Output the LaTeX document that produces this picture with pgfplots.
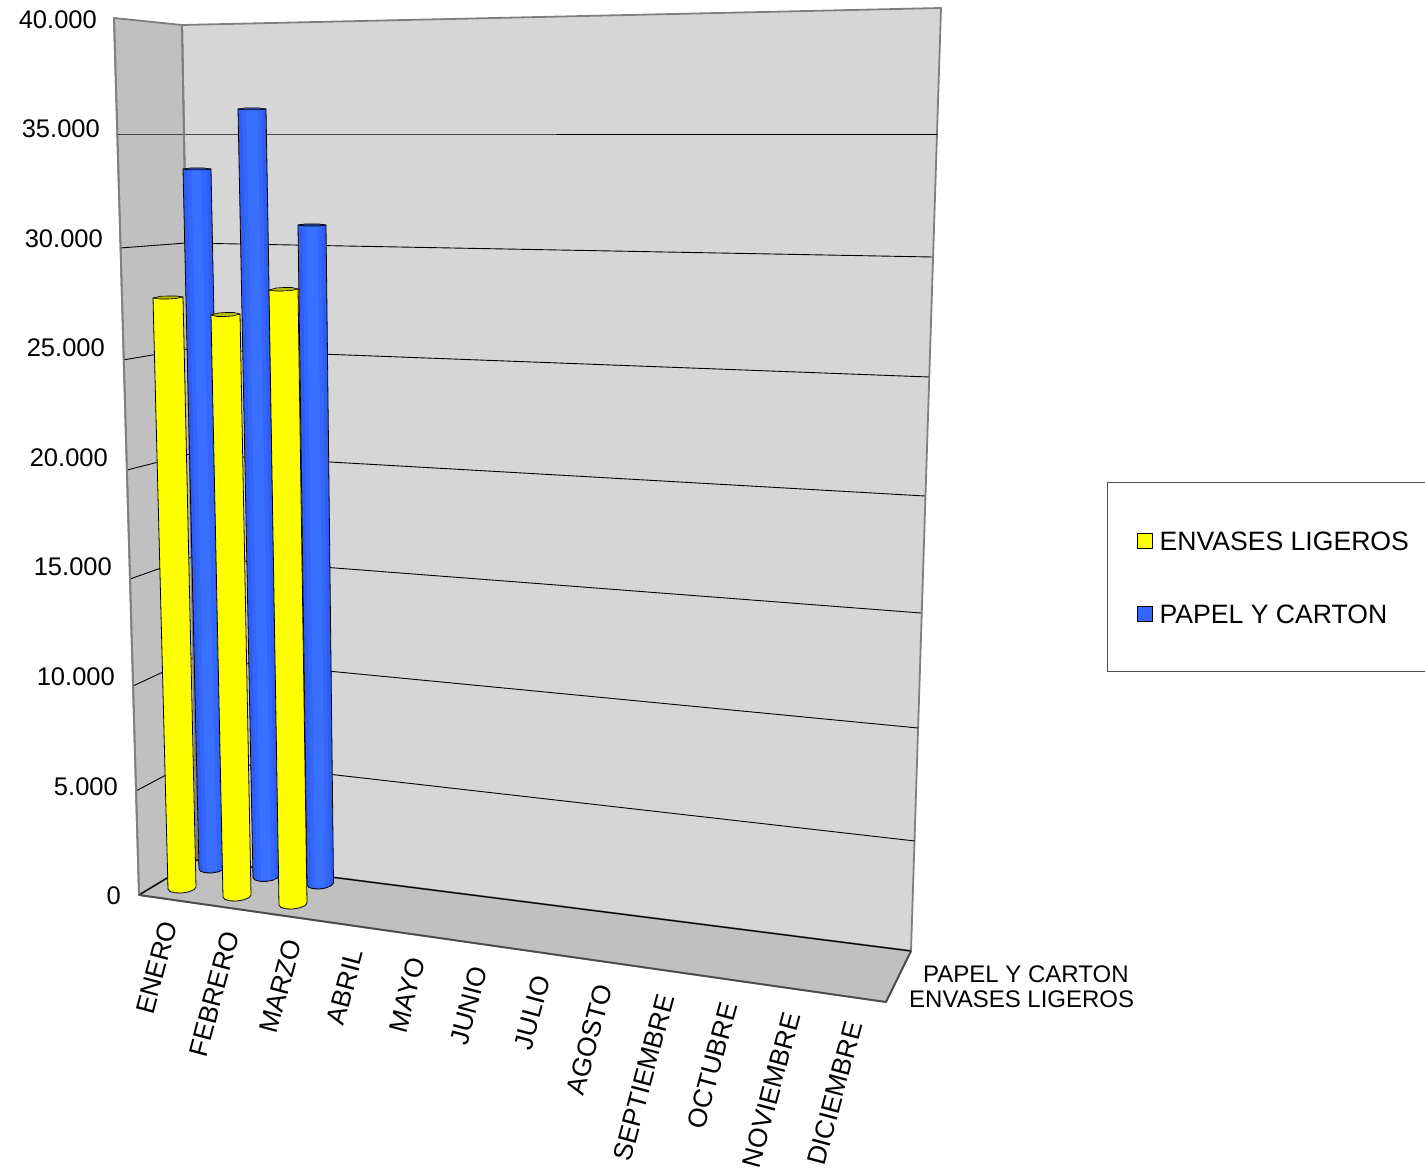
\documentclass[border=0pt]{standalone}
\usepackage{pgfplots}
\pgfplotsset{compat=1.18}
\usepackage{fontspec}
\setmainfont{Liberation Sans}
\definecolor{backw}{HTML}{D6D6D6}
\definecolor{sidew}{HTML}{C0C0C0}
\definecolor{edgew}{HTML}{7F7F7F}
\definecolor{ybar}{HTML}{FFFF00}
\definecolor{ytop}{HTML}{B8B800}
\definecolor{bbar}{HTML}{3366FF}
\definecolor{bedge}{HTML}{2E5DF0}
\definecolor{bmid}{HTML}{3A70FF}
\definecolor{btop}{HTML}{2A4AA8}
\pgfplotsset{
  wall/.style={draw=edgew,line width=1.8pt,line join=round,forget plot},
  grid3d/.style={draw=black,line width=0.9pt,no marks,forget plot},
  cyl/.style={line width=0.8pt,draw=black,line join=round,no marks,forget plot},
  strip/.style={draw=none,no marks,forget plot},
}
\newcommand{\lab}[3]{\node[anchor=east,inner sep=0pt,font=\fontsize{25.5}{25.5}\selectfont] at (axis cs:#1,#2) {#3};}
\newcommand{\mon}[3]{\node[anchor=east,rotate=75,inner sep=0pt,font=\fontsize{26.5}{26.5}\selectfont] at (axis cs:#1,#2) {#3};}
\begin{document}
\begin{tikzpicture}
\path[use as bounding box] (0,0) rectangle (1425pt,1169pt);
\begin{axis}[
  at={(0,0)},anchor=south west,scale only axis,width=1425pt,height=1169pt,
  xmin=0,xmax=1425,ymin=0,ymax=1169,y dir=reverse,hide axis,clip=false,
  legend image code/.code={\draw[#1] (0pt,-7.5pt) rectangle (15pt,7.5pt); \path (18pt,0pt);},
  legend cell align=left,
  legend style={at={(axis cs:1107,482)},anchor=north west,draw=black!70,line width=1.4pt,
    font=\fontsize{26.6}{26.6}\selectfont,inner xsep=29pt,inner ysep=48.5pt,
    row sep=54pt,
    nodes={inner xsep=4pt,inner ysep=0pt,text height=19pt,text depth=0pt}},
]
% walls and floor (chart space in picture pixels)
\addplot[wall,fill=backw] coordinates {(182,25)(941,8)(911,951)(197,860)} --cycle;
\addplot[wall,fill=sidew] coordinates {(114,18)(182,25)(197,860)(139,895)} --cycle;
\addplot[wall,fill=sidew] coordinates {(139,895)(197,860)(911,951)(886,1002)} --cycle;
% gridlines 35.000 ... 5.000
\addplot[grid3d] coordinates {(117,134)(184,134)(937,134)};
\addplot[grid3d] coordinates {(120,248)(186,243)(932,257)};
\addplot[grid3d] coordinates {(123,360)(188,349)(929,377)};
\addplot[grid3d] coordinates {(127,470)(190,454)(925,496)};
\addplot[grid3d] coordinates {(130,579)(192,557)(921,613)};
\addplot[grid3d] coordinates {(133,686)(193,658)(918,728)};
\addplot[grid3d] coordinates {(136,791)(196,759)(915,841)};
\addplot[wall,draw=edgew,fill=none] coordinates {(182,25)(197,860)};
\addplot[wall,draw=edgew,fill=none] coordinates {(114,18)(139,895)};
\addplot[grid3d,line width=1.2pt] coordinates {(139,895)(197,860)(911,951)};
\addplot[wall,fill=none,draw=black!70] coordinates {(139,895)(886,1002)(911,951)};
% PAPEL Y CARTON cylinders (about 33.500, 36.200, 31.000)
\addplot[cyl,fill=bedge] coordinates {(183,169)(199,869)(200.8,871.4)(205.5,872.8)(212,873)(218.5,871.8)(223.2,869.6)(225,867)(211,169)} --cycle;
\addplot[strip,fill=bbar] coordinates {(187.2,170)(202.9,871)(221.1,870)(206.8,170)} --cycle;
\addplot[strip,fill=bmid] coordinates {(191.4,170)(206.8,872)(217.2,871)(201.2,170)} --cycle;
\addplot[cyl,fill=btop,line width=0.5pt] coordinates {(183,169)(190,168)(204,168)(211,169)(204,170)(190,170)} --cycle;
\addplot[cyl,fill=bedge] coordinates {(238,109)(253,877.5)(254.8,879.9)(259.5,881.3)(266,881.5)(272.5,880.3)(277.2,878.1)(279,875.5)(266,109)} --cycle;
\addplot[strip,fill=bbar] coordinates {(242.2,110)(256.9,880)(275.1,879)(261.8,110)} --cycle;
\addplot[strip,fill=bmid] coordinates {(246.4,110)(260.8,880)(271.2,880)(257.6,110)} --cycle;
\addplot[cyl,fill=btop,line width=0.5pt] coordinates {(238,109)(245,108)(259,108)(266,109)(259,110)(245,110)} --cycle;
\addplot[cyl,fill=bedge] coordinates {(298,225)(307,885)(308.8,887.4)(313.5,888.8)(320,889)(326.5,887.8)(331.2,885.6)(333.5,883)(326,225)} --cycle;
\addplot[strip,fill=bbar] coordinates {(302.2,226)(311,887)(329.5,886)(321.8,226)} --cycle;
\addplot[strip,fill=bmid] coordinates {(306.4,226)(315,888)(325.5,887)(317.6,226)} --cycle;
\addplot[cyl,fill=btop,line width=0.7pt] coordinates {(298,225)(305,224)(319,224)(326,225)(319,226)(305,226)} --cycle;
% ENVASES LIGEROS cylinders (about 27.700, 27.000, 28.000)
\addplot[cyl,fill=ybar] coordinates {(153,298)(168,889)(169.9,891.4)(175,892.8)(182,893)(189,891.8)(194.1,889.6)(196,887)(183,297)} --cycle;
\addplot[cyl,fill=ytop,line width=0.6pt] coordinates {(153,298)(160,296.3)(168,296)(176,296)(183,297)(176,298.5)(168,299)(160,299)} --cycle;
\addplot[cyl,fill=ybar] coordinates {(211,315)(223,897)(224.9,899.4)(230,900.8)(237,901)(244,899.8)(249.1,897.6)(251,895)(240,314)} --cycle;
\addplot[cyl,fill=ytop,line width=0.6pt] coordinates {(211,315)(218,313)(226,312.5)(234,312.5)(240,314)(233,316)(225,316.5)(217,316.5)} --cycle;
\addplot[cyl,fill=ybar] coordinates {(269,290)(279,905)(280.9,907.4)(286,908.8)(293,909)(300,907.8)(305.1,905.6)(307,903)(298,289)} --cycle;
\addplot[cyl,fill=ytop,line width=0.6pt] coordinates {(269,290)(276,288)(284,287.5)(292,287.5)(298,289)(291,290.5)(283,291)(275,291)} --cycle;
% legend
\addlegendimage{fill=ybar,draw=black,line width=0.9pt}
\addlegendentry{ENVASES LIGEROS}
\addlegendimage{fill=bbar,draw=black,line width=0.9pt}
\addlegendentry{PAPEL Y CARTON}
% value labels
\lab{97}{20}{40.000}
\lab{100}{129}{35.000}
\lab{103}{239}{30.000}
\lab{105}{348}{25.000}
\lab{108}{458}{20.000}
\lab{112}{567}{15.000}
\lab{115}{677}{10.000}
\lab{118}{787}{5.000}
\lab{121}{896}{0}
% month labels
\mon{169}{922}{ENERO}
\mon{231}{932}{FEBRERO}
\mon{293}{940}{MARZO}
\mon{355}{950}{ABRIL}
\mon{417}{958}{MAYO}
\mon{479}{967}{JUNIO}
\mon{542}{976}{JULIO}
\mon{604}{985}{AGOSTO}
\mon{666}{995}{SEPTIEMBRE}
\mon{729}{1003}{OCTUBRE}
\mon{792}{1013}{NOVIEMBRE}
\mon{854}{1022}{DICIEMBRE}
% series labels
\node[anchor=west,inner sep=0pt,font=\fontsize{24}{24}\selectfont] at (axis cs:923,974) {PAPEL Y CARTON};
\node[anchor=west,inner sep=0pt,font=\fontsize{24}{24}\selectfont] at (axis cs:909,999) {ENVASES LIGEROS};
\end{axis}
\end{tikzpicture}
\end{document}
